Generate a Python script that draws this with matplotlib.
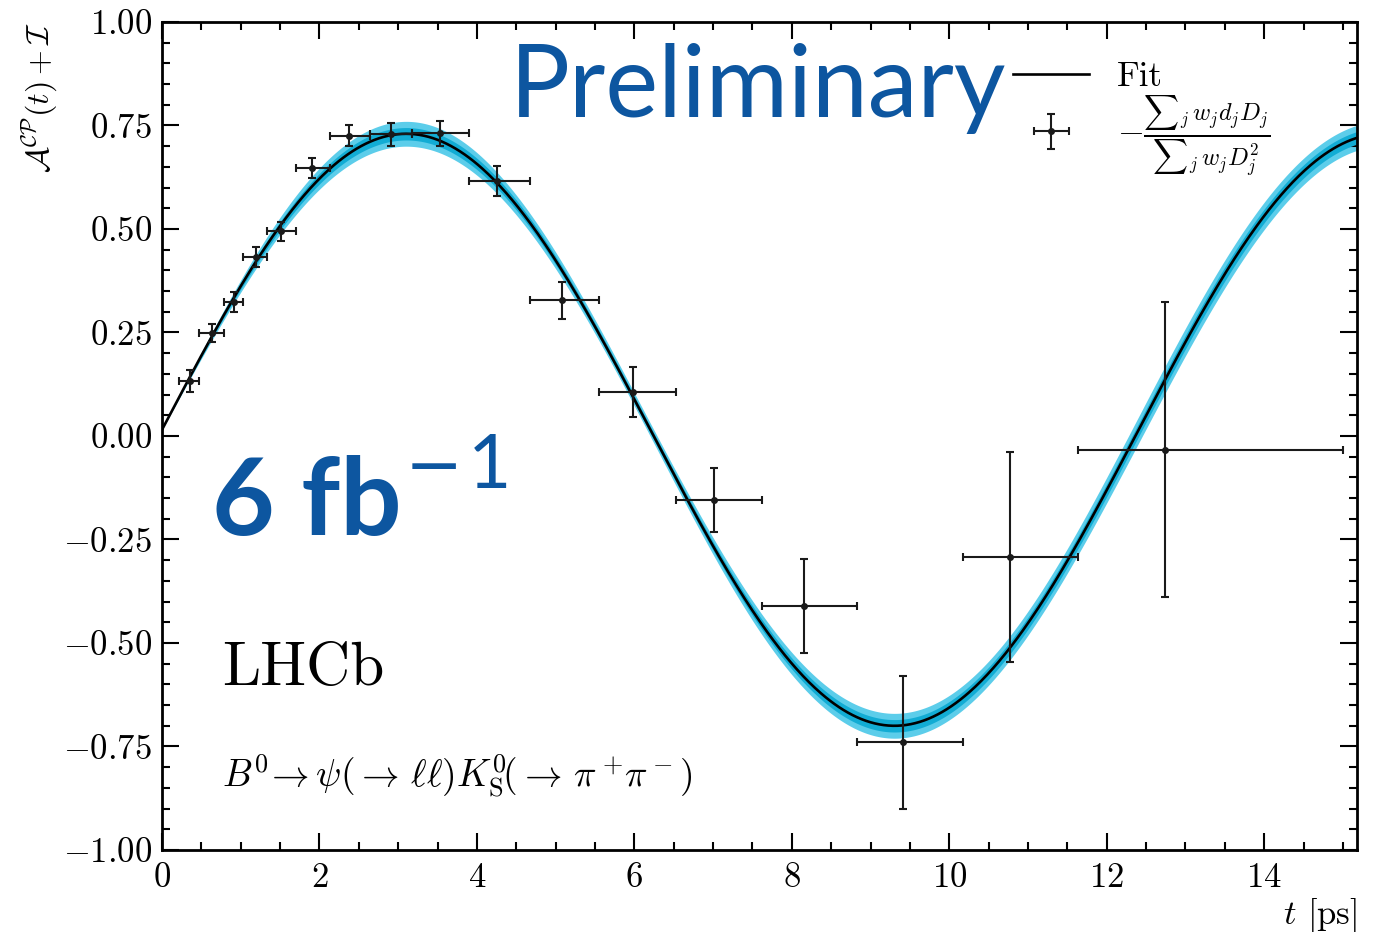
import numpy as np
import matplotlib
matplotlib.use("Agg")
import matplotlib.pyplot as plt
from matplotlib.ticker import MultipleLocator

# Binned asymmetry in decay time (bin edges, mean time in bin, value, error)
t_lo = [0.21, 0.47, 0.79, 1.03, 1.34, 1.70, 2.13, 2.64, 3.18, 3.90,
        4.67, 5.55, 6.53, 7.62, 8.83, 10.17, 11.63]
t_hi = [0.47, 0.79, 1.03, 1.34, 1.70, 2.13, 2.64, 3.18, 3.90, 4.67,
        5.55, 6.53, 7.62, 8.83, 10.17, 11.63, 15.00]
t_mean = [0.36, 0.63, 0.915, 1.19, 1.51, 1.91, 2.37, 2.91, 3.53, 4.26,
          5.08, 5.98, 7.01, 8.15, 9.41, 10.77, 12.74]
asym = [0.133, 0.248, 0.323, 0.433, 0.494, 0.647, 0.725, 0.729, 0.731, 0.616,
        0.328, 0.106, -0.155, -0.410, -0.740, -0.292, -0.033]
asym_err = [0.027, 0.022, 0.024, 0.024, 0.023, 0.024, 0.025, 0.028, 0.031, 0.037,
            0.045, 0.060, 0.077, 0.113, 0.160, 0.254, 0.357]

# Fit result: S sin(dm t) + I
S_fit = 0.715
S_err = 0.015
I_fit = 0.015
dm = 0.5065      # ps^-1
dm_err = 0.0018

plt.rcParams['font.family'] = 'serif'
plt.rcParams['font.serif'] = ['cmr10']
plt.rcParams['mathtext.fontset'] = 'cm'
plt.rcParams['axes.formatter.use_mathtext'] = True

fig = plt.figure(figsize=(13.75, 9.32), dpi=100)
ax = fig.add_axes([0.1178, 0.088, 0.8692, 0.8884])

t = np.linspace(0, 15.2, 800)
curve = S_fit * np.sin(dm * t) + I_fit
sig = np.sqrt((S_err * np.sin(dm * t))**2 + (S_fit * t * dm_err * np.cos(dm * t))**2)

ax.fill_between(t, curve - 2 * sig, curve + 2 * sig, color='#5ccdea', lw=0, zorder=1)
ax.fill_between(t, curve - sig, curve + sig, color='#12acd4', lw=0, zorder=2)
fit_line, = ax.plot(t, curve, color='black', lw=1.9, zorder=3, label='Fit')

t_mean_a = np.array(t_mean)
xerr = [t_mean_a - np.array(t_lo), np.array(t_hi) - t_mean_a]
eb = ax.errorbar(t_mean, asym, xerr=xerr, yerr=asym_err, fmt='o', ms=4,
                 color='#1a1a1a', ecolor='#1a1a1a', elinewidth=1.5, capsize=3,
                 capthick=1.5, zorder=4,
                 label=r'$-\frac{{\sum}_j\, w_j d_j D_j}{{\sum}_j\, w_j D_j^2}$')

ax.set_xlim(0, 15.18)
ax.set_ylim(-1, 1)
ax.xaxis.set_major_locator(MultipleLocator(2))
ax.xaxis.set_minor_locator(MultipleLocator(0.5))
ax.yaxis.set_major_locator(MultipleLocator(0.25))
ax.yaxis.set_minor_locator(MultipleLocator(0.05))
ax.yaxis.set_major_formatter(matplotlib.ticker.FuncFormatter(
    lambda v, p: r'$%.2f$' % v))
ax.tick_params(which='both', direction='in', top=True, right=True,
               labelsize=25, width=1.5)
ax.tick_params(which='major', length=12)
ax.tick_params(which='minor', length=6)
ax.tick_params(axis='x', pad=9)
ax.tick_params(axis='y', pad=7)
for s in ax.spines.values():
    s.set_linewidth(2)

ax.set_ylabel(r'$\mathcal{A}^{\mathcal{CP}}(t) + \mathcal{I}$', fontsize=23, loc='top')
ax.yaxis.set_label_coords(-0.085, 1.0)
ax.set_xlabel(r'$t$ [ps]', fontsize=25, loc='right')
ax.xaxis.set_label_coords(1.0, -0.055)

ax.legend(handles=[fit_line, eb], loc='upper left', bbox_to_anchor=(0.686, 0.99),
          frameon=False, fontsize=25, handlelength=2.2, handletextpad=0.8,
          labelspacing=0.0)

blue = '#0d56a0'
ax.text(0.291, 0.885, 'Preliminary', transform=ax.transAxes, fontsize=72,
        family='Lato', color=blue, zorder=5)
ax.text(0.042, 0.38, '6 fb', transform=ax.transAxes, fontsize=78,
        family='Lato', weight='bold', color=blue, zorder=5)
ax.text(0.203, 0.437, '\u2212', transform=ax.transAxes, fontsize=50,
        family='DejaVu Sans', color=blue, zorder=5)
ax.text(0.256, 0.437, '1', transform=ax.transAxes, fontsize=54,
        family='Lato', color=blue, zorder=5)

ax.text(0.050, 0.199, 'LHCb', transform=ax.transAxes, fontsize=44)
ax.text(0.050, 0.076,
        r'$B^0\!\rightarrow\psi(\rightarrow\,\ell\ell)K^0_{\mathrm{S}}\!(\rightarrow\,\pi^+\!\pi^-)$',
        transform=ax.transAxes, fontsize=27)

fig.savefig('out.png', dpi=100)
